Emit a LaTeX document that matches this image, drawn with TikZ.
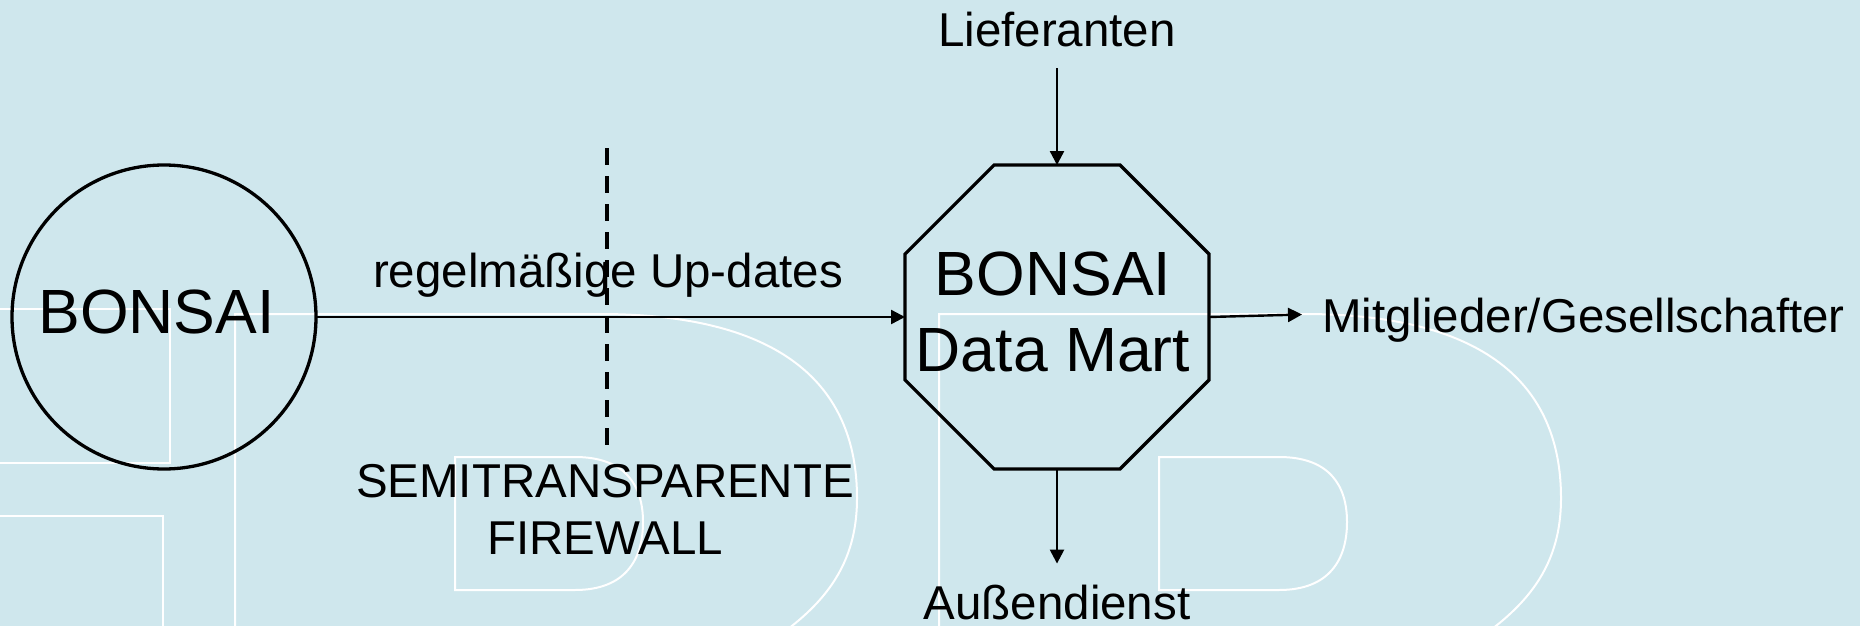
\documentclass[tikz,border=0pt]{standalone}
\usepackage{fontspec}
\setmainfont{Liberation Sans}
\usetikzlibrary{arrows.meta,shapes.geometric}
\definecolor{bgblue}{RGB}{207,231,237}
\newcommand\dmbig{\fontsize{62.5}{76}\selectfont}
\newcommand\dmsmall{\fontsize{47.5}{57}\selectfont}
\begin{document}
\begin{tikzpicture}[x=1pt,y=-1pt,
  wm/.style={white,line width=2pt},
  arr/.style={-{Triangle[length=14pt,width=14pt]},line width=2.4pt},
  shapeline/.style={draw,line width=3.3pt,inner sep=0pt,outer sep=0pt},
  txt/.style={inner sep=0pt,outer sep=0pt,font=\dmsmall},
  fwline/.style={line width=3.4pt,dash pattern=on 17pt off 11pt}]
\useasboundingbox (0,0) rectangle (1860,626);
\fill[bgblue] (0,0) rectangle (1860,626);
% watermark outlines
\begin{scope}
\clip (0,0) rectangle (1860,626);
\draw[wm] (0,309) -- (170,309) -- (170,463) -- (0,463);
\draw[wm] (0,516) -- (163,516) -- (163,626);
\foreach \dx in {0,704}{
  \begin{scope}[xshift=\dx pt]
  \draw[wm] (235,630) -- (235,314) -- (600,314) .. controls (800,314) and (857,400) .. (857,498) .. controls (857,570) and (820,615) .. (740,660);
  \draw[wm] (455,457) -- (575,457) .. controls (625,457) and (643,485) .. (643,522) .. controls (643,560) and (625,590) .. (575,590) -- (455,590) -- cycle;
  \end{scope}
}
\end{scope}
% nodes
\node[shapeline,circle,minimum size=304pt,font=\dmbig,text height=46pt,text depth=14pt] (bonsai) at (164,317) {\kern-15pt BONSAI};
\node[shapeline,regular polygon,regular polygon sides=8,minimum size=329pt] (dm) at (1057,317) {};
\node[inner sep=0pt,outer sep=0pt,font=\dmbig,align=center,anchor=base] (dmtext) at (1053,371) {BONSAI\\Data Mart};
\node[txt,anchor=base] (lief) at (1057,47) {Lieferanten};
\node[txt,anchor=base] (auss) at (1057,619) {Außendienst};
\node[txt,anchor=base west,text height=36pt,text depth=0pt] (mit) at (1322,332) {Mitglieder/Gesellschafter};
\node[txt,anchor=base] (upd) at (608,287) {regelmäßige Up-dates};
\node[txt,anchor=base,align=center] (fw) at (605,554) {SEMITRANSPARENTE\\FIREWALL};
\coordinate (fwtop) at (607,148);
\coordinate (fwbot) at (607,445);
% connectors
\draw[arr] (bonsai.east) -- (dm.west);
\draw[arr,shorten <=21pt] (lief.south) -- (dm.north);
\draw[arr,shorten >=21pt] (dm.south) -- (auss.north);
\draw[arr,shorten >=20pt] (dm.east) -- (mit.west);
\draw[fwline] (fwtop) -- (fwbot);
\end{tikzpicture}
\end{document}
